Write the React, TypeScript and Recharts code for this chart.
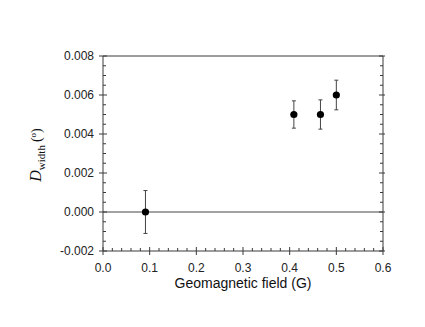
import { ScatterChart, Scatter, XAxis, YAxis, ErrorBar, ReferenceLine } from 'recharts';

// Geomagnetic field (G) vs D_width (deg)
const fieldValues = [0.091, 0.409, 0.466, 0.5];
const widthValues = [0.0, 0.005, 0.005, 0.006];
const widthErrors = [0.0011, 0.0007, 0.00075, 0.00076];

const xMajorTicks = [0, 0.1, 0.2, 0.3, 0.4, 0.5, 0.6];
const yMajorTicks = [-0.002, 0, 0.002, 0.004, 0.006, 0.008];

const xMinorStep = 0.02;
const yMinorStep = 0.0005;

const data = fieldValues.map((x, i) => ({ x, y: widthValues[i], err: widthErrors[i] }));

const makeTicks = (lo: number, hi: number, step: number) => {
    const out: number[] = [];
    const n = Math.round((hi - lo) / step);
    for (let i = 0; i <= n; i++) out.push(+(lo + i * step).toFixed(6));
    return out;
};
const xTicks = makeTicks(0, 0.6, xMinorStep);
const yTicks = makeTicks(-0.002, 0.008, yMinorStep);

const isMajor = (v: number, majors: number[]) => majors.some((m) => Math.abs(m - v) < 1e-9);

const AXIS = '#3a3a3a';
const FONT = '"Liberation Sans", Arial, sans-serif';

function makeTick(side: 'left' | 'right' | 'top' | 'bottom') {
    return (props: any) => {
        const { x, y, payload } = props;
        const v = payload.value;
        const horiz = side === 'top' || side === 'bottom';
        const major = isMajor(v, horiz ? xMajorTicks : yMajorTicks);
        const inward = major ? 4 : 3;
        const outward = major ? (side === 'left' || side === 'bottom' ? 4 : 2) : 0;
        let line;
        if (side === 'left') line = <line x1={x - outward} x2={x + inward} y1={y} y2={y} />;
        else if (side === 'right') line = <line x1={x - inward} x2={x + outward} y1={y} y2={y} />;
        else if (side === 'top') line = <line x1={x} x2={x} y1={y - outward} y2={y + inward} />;
        else line = <line x1={x} x2={x} y1={y - inward} y2={y + outward} />;
        return (
            <g stroke={AXIS} strokeWidth={1}>
                {line}
                {major && side === 'left' && (
                    <text x={x - 9} y={y} dy="0.36em" textAnchor="end" stroke="none" fill="#222" fontSize={12} fontFamily={FONT}>
                        {v.toFixed(3)}
                    </text>
                )}
                {major && side === 'bottom' && (
                    <text x={x} y={y + 21} textAnchor="middle" stroke="none" fill="#222" fontSize={12} fontFamily={FONT}>
                        {v.toFixed(1)}
                    </text>
                )}
            </g>
        );
    };
}

const Dot = (props: any) => <circle cx={props.cx} cy={props.cy} r={3.6} fill="#000" />;

export default function App() {
    return (
        <div style={{ position: 'absolute', left: 0, top: 0, width: 425, height: 327, background: '#fff' }}>
            <ScatterChart width={425} height={327} margin={{ top: 55, right: 41, bottom: 75, left: 102 }}>
                <XAxis xAxisId="b" type="number" dataKey="x" domain={[0, 0.6]} ticks={xTicks} allowDataOverflow
                    height={1} tickSize={0} tickMargin={0} tickLine={false} axisLine={{ stroke: AXIS }} tick={makeTick('bottom')} interval={0} />
                <XAxis xAxisId="t" orientation="top" type="number" domain={[0, 0.6]} ticks={xTicks} allowDataOverflow
                    height={1} tickSize={0} tickMargin={0} tickLine={false} axisLine={{ stroke: AXIS }} tick={makeTick('top')} interval={0} />
                <YAxis yAxisId="l" type="number" dataKey="y" domain={[-0.002, 0.008]} ticks={yTicks} allowDataOverflow
                    width={1} tickSize={0} tickMargin={0} tickLine={false} axisLine={{ stroke: AXIS }} tick={makeTick('left')} interval={0} />
                <YAxis yAxisId="r" orientation="right" type="number" domain={[-0.002, 0.008]} ticks={yTicks} allowDataOverflow
                    width={1} tickSize={0} tickMargin={0} tickLine={false} axisLine={{ stroke: AXIS }} tick={makeTick('right')} interval={0} />
                <ReferenceLine xAxisId="b" yAxisId="l" y={0} stroke="#444" strokeWidth={1} />
                <Scatter xAxisId="b" yAxisId="l" data={data} shape={Dot} isAnimationActive={false}>
                    <ErrorBar dataKey="err" direction="y" width={2} stroke="#444" strokeWidth={1} isAnimationActive={false} />
                </Scatter>
            </ScatterChart>
            <svg width={425} height={327} style={{ position: 'absolute', left: 0, top: 0, pointerEvents: 'none' }}>
                <text x={243} y={288} textAnchor="middle" fontSize={14} fontFamily={FONT} fill="#111">
                    Geomagnetic field (G)
                </text>
                <g transform="translate(41,155) rotate(-90)">
                    <text textAnchor="middle" fontFamily='"Liberation Serif", "Times New Roman", serif' fill="#111">
                        <tspan fontSize={16} fontStyle="italic">D</tspan>
                        <tspan fontSize={11} dy={4}>width</tspan>
                        <tspan fontSize={14} dy={-4} dx={3}>(</tspan>
                        <tspan fontSize={9} dy={-5}>o</tspan>
                        <tspan fontSize={14} dy={5}>)</tspan>
                    </text>
                </g>
            </svg>
        </div>
    );
}
